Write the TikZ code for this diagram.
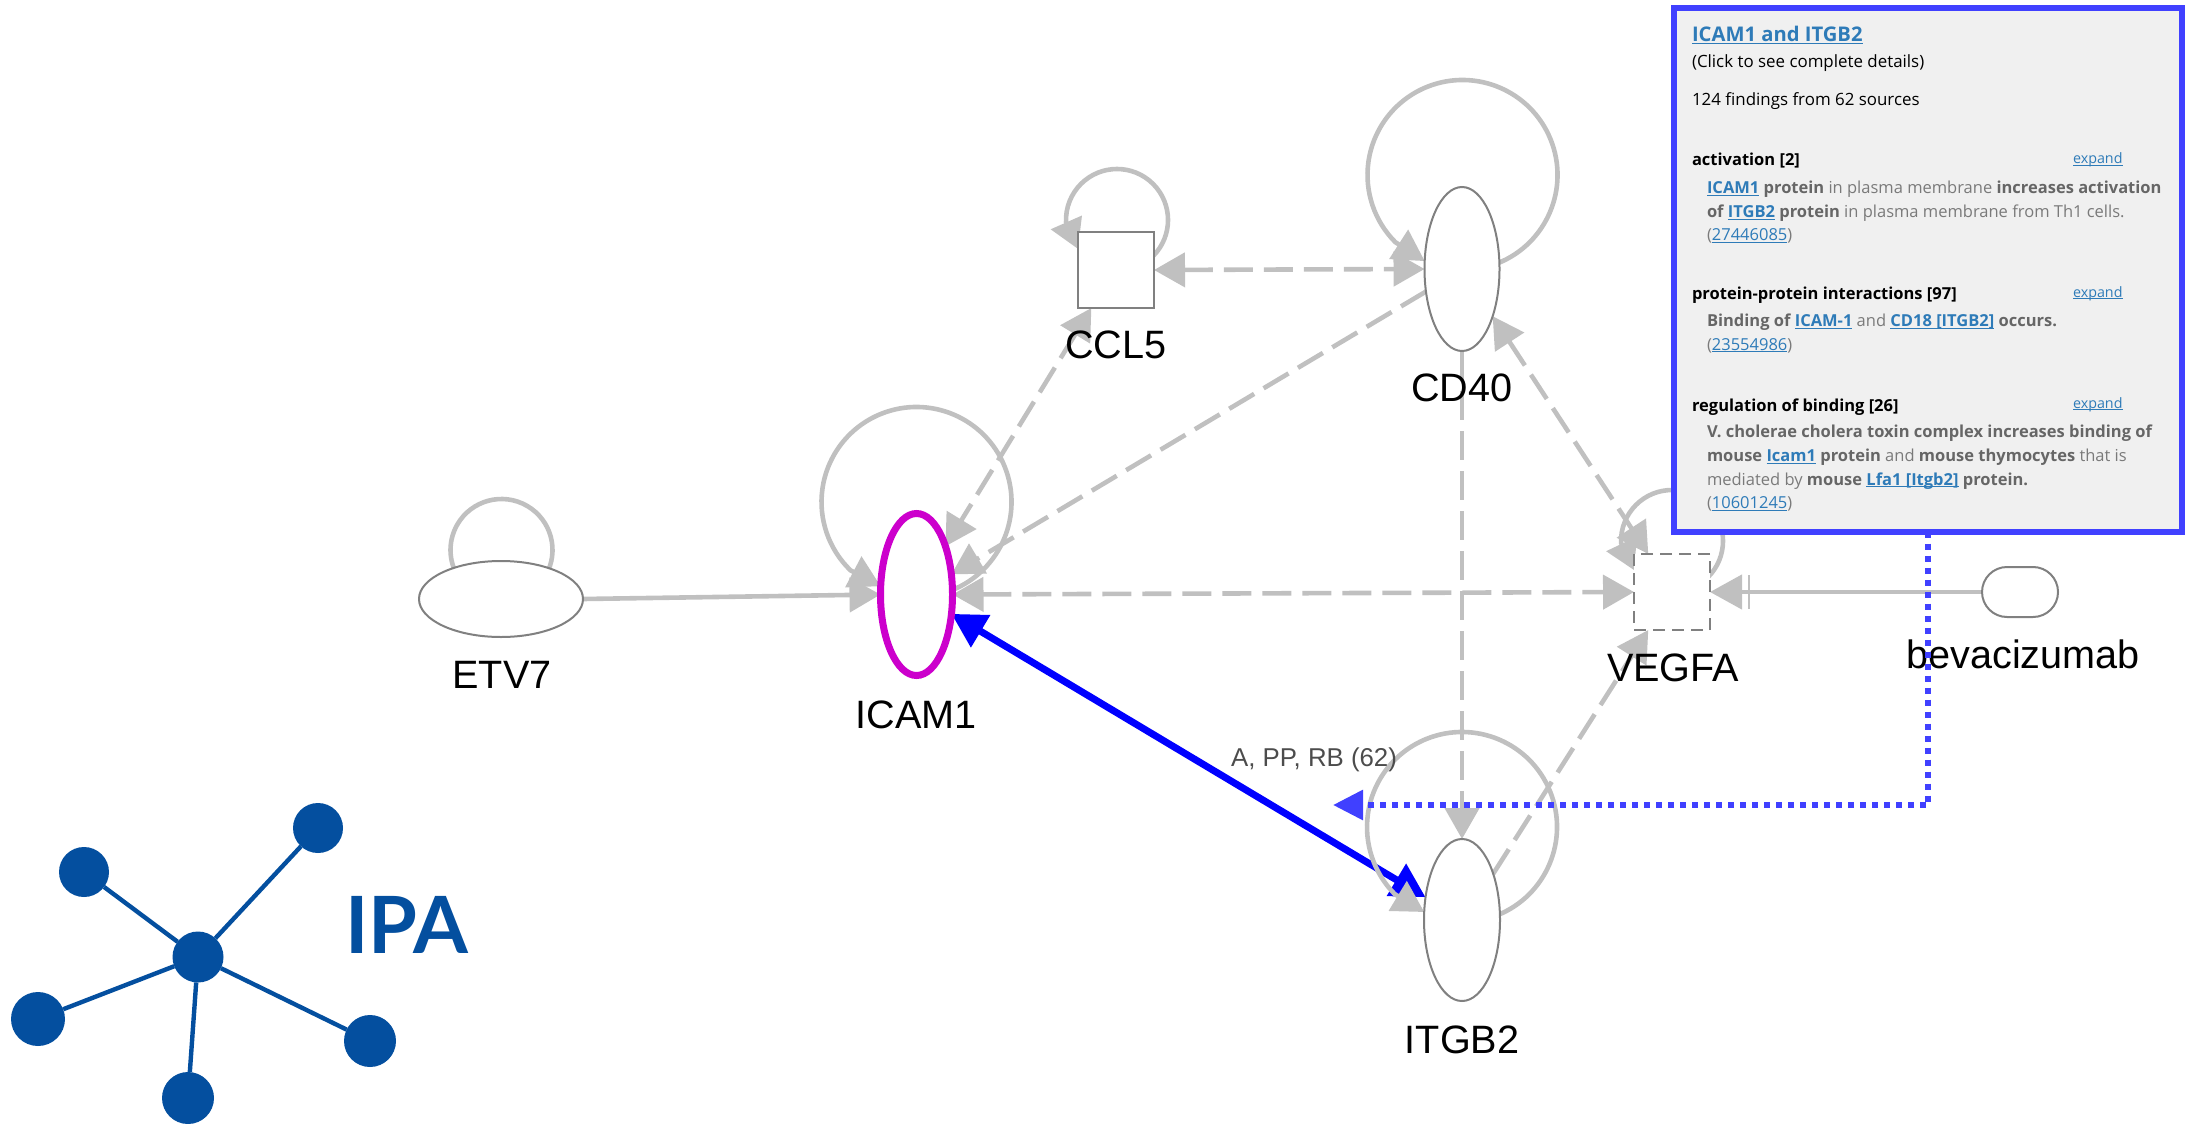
\documentclass[tikz,border=0pt]{standalone}
\usepackage{fontspec}
\setmainfont{Liberation Sans}
\newfontfamily\panelfont{Open Sans}
\newfontfamily\logofont{Lato}
\usetikzlibrary{arrows.meta,shapes.geometric,shapes.misc}
\definecolor{edgec}{HTML}{C0C0C0}
\definecolor{nodec}{HTML}{808080}
\definecolor{magc}{HTML}{CC00CC}
\definecolor{bluec}{HTML}{0000FF}
\definecolor{callc}{HTML}{4040FF}
\definecolor{panelc}{HTML}{F0F0F0}
\definecolor{linkc}{HTML}{2E7BB8}
\definecolor{bodyc}{HTML}{7A7A7A}
\definecolor{bodyb}{HTML}{666666}
\definecolor{logoc}{HTML}{044F9F}
\pgfdeclarelayer{edges}
\pgfsetlayers{edges,main}
\newsavebox{\lnkbox}
\newcommand{\lnk}[1]{\sbox{\lnkbox}{\color{linkc}#1}{\color{linkc}\usebox{\lnkbox}\hspace{-\wd\lnkbox}\rule[-1.1pt]{\wd\lnkbox}{0.5pt}}}
\newcommand{\bb}[1]{{\bfseries\color{bodyb}#1}}
\tikzset{
  x=0.5pt,y=-0.5pt,
  every node/.style={outer sep=0pt,inner sep=0pt},
  boxnode/.style={rectangle,draw=nodec,fill=white,line width=1pt,minimum width=38pt,minimum height=38pt},
  gtip/.tip={Triangle[length=15.5pt,width=17pt]},
  ltip/.tip={Triangle[length=14.5pt,width=16.5pt]},
  btip/.tip={Triangle[length=17pt,width=18pt]},
  solidedge/.style={draw=edgec,fill=none,line width=2.3pt},
  dashedge/.style={solidedge,dash pattern=on 14.5pt off 5.5pt},
  loopedge/.style={solidedge},
  blueedge/.style={draw=bluec,line width=3.5pt},
  lab/.style={anchor=base,text=black,font=\fontsize{19.8pt}{23pt}\selectfont},
  ptxt/.style={anchor=base west,text=bodyc,font=\panelfont\fontsize{8.25pt}{10pt}\selectfont},
  pblack/.style={anchor=base west,text=black,font=\panelfont\fontsize{8.45pt}{10pt}\selectfont},
  phead/.style={anchor=base west,text=black,font=\panelfont\bfseries\fontsize{8.25pt}{10pt}\selectfont},
  pexp/.style={anchor=base west,font=\panelfont\fontsize{7.15pt}{8pt}\selectfont},
  logodot/.style={circle,fill=logoc,minimum size=#1},
  logoline/.style={draw=logoc,line width=2.2pt},
  callout/.style={draw=callc,line width=3pt,dash pattern=on 3pt off 3pt}
}
\begin{document}
\begin{tikzpicture}
\useasboundingbox (0,0) rectangle (2187,1123);
% gene nodes
\node[ellipse,draw=nodec,fill=white,line width=1pt,minimum width=82pt,minimum height=38pt] (etv7) at (501,599) {};
\node[ellipse,draw=magc,fill=white,line width=3.5pt,minimum width=36pt,minimum height=81pt] (icam) at (916.5,594.5) {};
\node[boxnode] (ccl5) at (1116,270) {};
\node[ellipse,draw=nodec,fill=white,line width=1pt,minimum width=37.5pt,minimum height=82pt] (cd40) at (1462,269) {};
\node[ellipse,draw=nodec,fill=white,line width=1pt,minimum width=38pt,minimum height=81pt] (itgb) at (1462,920) {};
\node[boxnode,dash pattern=on 6pt off 3.5pt] (vegfa) at (1672,592) {};
\node[rectangle,rounded corners=12.5pt,draw=nodec,fill=white,line width=1pt,minimum width=38pt,minimum height=25pt] (bev) at (2020,592) {};
% connectors
\begin{pgfonlayer}{edges}
\draw[blueedge,{btip}-{btip}] (icam.-29.7) -- (itgb.148.8);
\draw[solidedge,-{gtip}] (etv7.east) -- (icam.west);
\draw[dashedge,{gtip}-{gtip}] (ccl5.east) -- (cd40.west);
\draw[dashedge,{gtip}-{gtip}] (icam.east) -- (vegfa.west);
\draw[dashedge,{gtip}-{gtip}] (ccl5.237.7) -- (icam.59.4);
\draw[dashedge,-{gtip}] (cd40.212) -- (icam.30);
\draw[dashedge,{gtip}-{gtip}] (cd40.-57) -- (vegfa.122.3);
\draw[dashedge,-{gtip}] (cd40.south) -- (itgb.north);
\draw[dashedge,-{gtip}] (itgb.56.6) -- (vegfa.238);
\draw[solidedge,-{Bar[width=17pt,line width=1pt,sep=3pt] Triangle[length=16pt,width=17pt]}] (bev.west) -- (vegfa.east);
\draw[loopedge] (etv7) ++(0.5,-49) ++(30:51) arc[start angle=30,end angle=-210,radius=51];
\draw[loopedge,-{gtip}] (icam) ++(0,-92.5) ++(68:95) arc[start angle=68,end angle=-226,radius=95] -- (icam.167);
\draw[loopedge,-{gtip}] (cd40) ++(0.5,-94) ++(68:95) arc[start angle=68,end angle=-225,radius=95] -- (cd40.168);
\draw[loopedge,-{gtip}] (itgb) ++(0,-93) ++(68:95) arc[start angle=68,end angle=-225,radius=95] -- (itgb.168);
\draw[loopedge,-{ltip}] (ccl5) ++(1,-50) ++(45:51) arc[start angle=45,end angle=-182,radius=51] -- (ccl5.151);
\draw[loopedge,-{ltip}] (vegfa) ++(0,-51) ++(45:51) arc[start angle=45,end angle=-182,radius=51] -- (vegfa.150.6);
\end{pgfonlayer}
% labels
\node[lab] (letv) at (502,688) {ETV7};
\node[lab] (licam) at (916,728) {ICAM1};
\node[lab] (lccl) at (1116,358) {CCL5};
\node[lab] (lcd) at (1462,401) {CD40};
\node[lab] (litg) at (1462,1053) {ITGB2};
\node[lab] (lveg) at (1673,681) {VEGFA};
\node[lab] (lbev) at (2023,668) {bevacizumab};
\node[anchor=base,text=black!70,font=\fontsize{12.9pt}{16pt}\selectfont] (ledge) at (1314,766) {A, PP, RB (62)};
% detail panel
\node[rectangle,draw=callc,fill=panelc,line width=3pt,minimum width=254pt,minimum height=261.5pt] (panel) at (1928,270) {};
\draw[callout,-{Triangle[length=15pt,width=14.5pt]}] (panel.south) |- (1333,805) coordinate (callend);
\node[anchor=base west,font=\panelfont\bfseries\fontsize{10.1pt}{12pt}\selectfont] (ptitle) at (1692,42) {\lnk{ICAM1 and ITGB2}};
\node[pblack] (p1) at (1692,67.5) {(Click to see complete details)};
\node[pblack] (p2) at (1692,105.5) {124 findings from 62 sources};
\node[phead] (h1) at (1692,166) {activation [2]};
\node[pexp] (e1) at (2073,164) {\lnk{expand}};
\node[ptxt] (a1) at (1707,194) {\textbf{\lnk{ICAM1}} \bb{protein} in plasma membrane \bb{increases activation}};
\node[ptxt] (a2) at (1707,217.5) {\bb{of} \textbf{\lnk{ITGB2}} \bb{protein} in plasma membrane from Th1 cells.};
\node[ptxt] (a3) at (1707,241) {(\lnk{27446085})};
\node[phead] (h2) at (1692,299.5) {protein-protein interactions [97]};
\node[pexp] (e2) at (2073,297) {\lnk{expand}};
\node[ptxt] (b1) at (1707,326.5) {\bb{Binding of} \textbf{\lnk{ICAM-1}} and \textbf{\lnk{CD18 [ITGB2]}} \bb{occurs.}};
\node[ptxt] (b2) at (1707,350) {(\lnk{23554986})};
\node[phead] (h3) at (1692,411) {regulation of binding [26]};
\node[pexp] (e3) at (2073,408) {\lnk{expand}};
\node[ptxt] (c1) at (1707,437) {\bb{V. cholerae cholera toxin complex increases binding of}};
\node[ptxt] (c2) at (1707,461.5) {\bb{mouse} \textbf{\lnk{Icam1}} \bb{protein} and \bb{mouse thymocytes} that is};
\node[ptxt] (c3) at (1707,485) {mediated by \bb{mouse} \textbf{\lnk{Lfa1 [Itgb2]}} \bb{protein.}};
\node[ptxt] (c4) at (1707,508.5) {(\lnk{10601245})};
% logo
\node[logodot=25.5pt] (hub) at (198,957) {};
\node[logodot=25pt] (d1) at (318,828) {};
\node[logodot=25pt] (d2) at (84,872) {};
\node[logodot=27pt] (d3) at (38,1019) {};
\node[logodot=26pt] (d4) at (188,1098) {};
\node[logodot=26pt] (d5) at (370,1041) {};
\begin{pgfonlayer}{edges}
\foreach \d in {d1,d2,d3,d4,d5} \draw[logoline] (hub) -- (\d);
\end{pgfonlayer}
\node[anchor=base west,text=logoc,font=\logofont\bfseries\fontsize{39.5pt}{44pt}\selectfont] (ipa) at (345,953) {IPA};
\end{tikzpicture}
\end{document}
